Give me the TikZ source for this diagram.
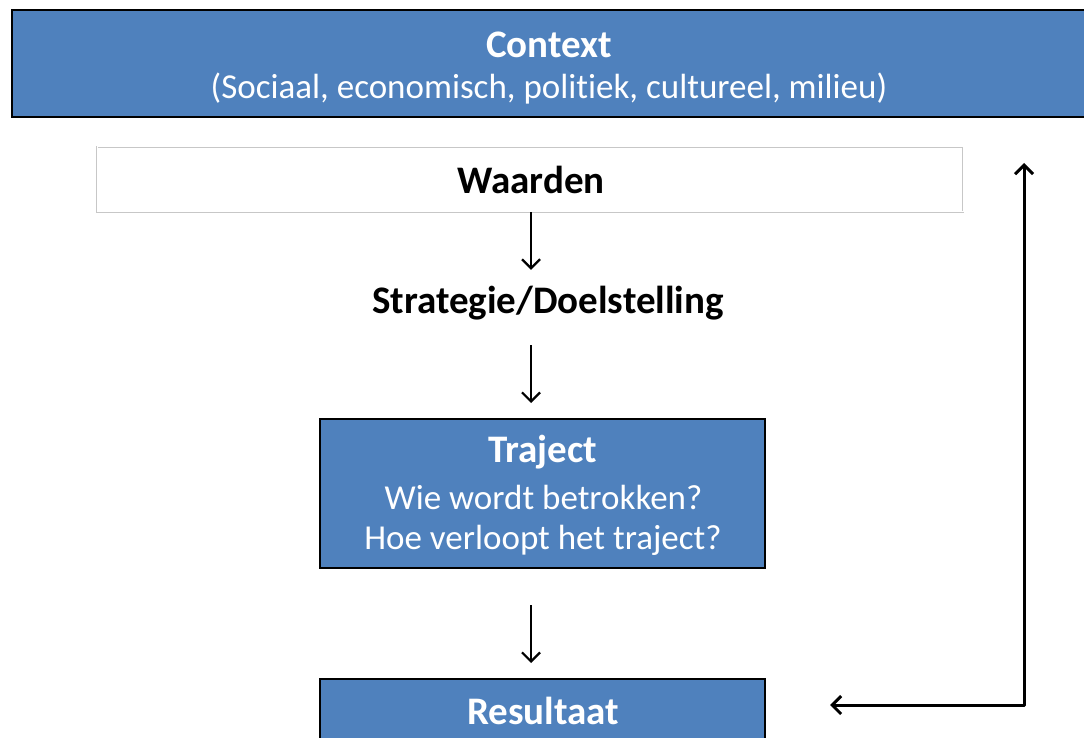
\documentclass[tikz,border=0pt]{standalone}
\usepackage{fontspec}
\setmainfont{Carlito}[Ligatures=NoCommon]
\usetikzlibrary{arrows.meta}

\definecolor{boxblue}{HTML}{4F81BD}
\newcommand{\headfont}{\fontsize{39}{44}\selectfont\bfseries}
\newcommand{\bodyfont}{\fontsize{35}{44}\selectfont}

\tikzset{
    bluebox/.style={draw=black, line width=2pt, fill=boxblue, text=white, align=center, inner sep=0pt, font=\bodyfont},
    greybox/.style={draw=black!22, double=white, double distance=1pt, line width=0.8pt, fill=white, inner sep=0pt},
    flow/.style={-{Straight Barb[length=9pt, width=18pt, line width=2.2pt]}, line width=2.2pt},
    feedback/.style={{Straight Barb[length=9pt, width=18pt, line width=3pt]}-{Straight Barb[length=9pt, width=18pt, line width=3pt]}, line width=3pt, line join=round}
}

\begin{document}
\begin{tikzpicture}[x=1pt, y=-1pt]
        \useasboundingbox (0, 0) rectangle (1084, 738);
        \clip (0, 0) rectangle (1084, 738);

        % context on top
        \node[bluebox, line width=2.5pt, minimum width=1090, minimum height=107] (context) at (557, 63.5) {};
        \node[text=white, inner sep=0pt, font=\headfont] (contexttitle) at (549, 45) {Context};
        \node[text=white, inner sep=0pt, font=\bodyfont] (contextsub) at (549, 89) {(Sociaal, economisch, politiek, cultureel, milieu)};

        % values
        \node[greybox, minimum width=866, minimum height=65] (waarden) at (530, 179.5) {};
        \node[inner sep=0pt, font=\headfont] (waardentext) at (531, 180) {Waarden};

        % strategy
        \node[inner sep=0pt, minimum height=66, font=\headfont] (strategie) at (548, 303) {Strategie/Doelstelling};

        % route
        \node[bluebox, minimum width=445, minimum height=149] (traject) at (542.5, 493.5) {};
        \node[text=white, inner sep=0pt, font=\headfont] (trajecttitle) at (542.5, 452) {Traject};
        \node[text=white, inner sep=0pt, font=\bodyfont] (trajectwie) at (543.5, 497) {Wie wordt betrokken?};
        \node[text=white, inner sep=0pt, font=\bodyfont] (trajecthoe) at (543, 540) {Hoe verloopt het traject?};

        % result
        \node[bluebox, minimum width=445, minimum height=66] (resultaat) at (542.5, 712) {};
        \node[text=white, inner sep=0pt, font=\headfont] (resultaattext) at (543, 711) {Resultaat};

        % top to bottom arrows
        \draw[flow] (waarden.south -| 531, 0) -- (strategie.north -| 531, 0);
        \draw[flow, shorten <=9pt, shorten >=15pt] (strategie.south -| 531, 0) -- (traject.north -| 531, 0);
        \draw[flow, shorten <=36pt, shorten >=15pt] (traject.south -| 531, 0) -- (resultaat.north -| 531, 0);

        % feedback arrow
        \coordinate (fbcorner) at (1024, 705);
        \coordinate (fbtop) at (1024, 163);
        \draw[feedback, shorten <=64pt] (resultaat.east |- fbcorner) -- (fbcorner) -- (fbtop);

        \end{tikzpicture}
\end{document}
